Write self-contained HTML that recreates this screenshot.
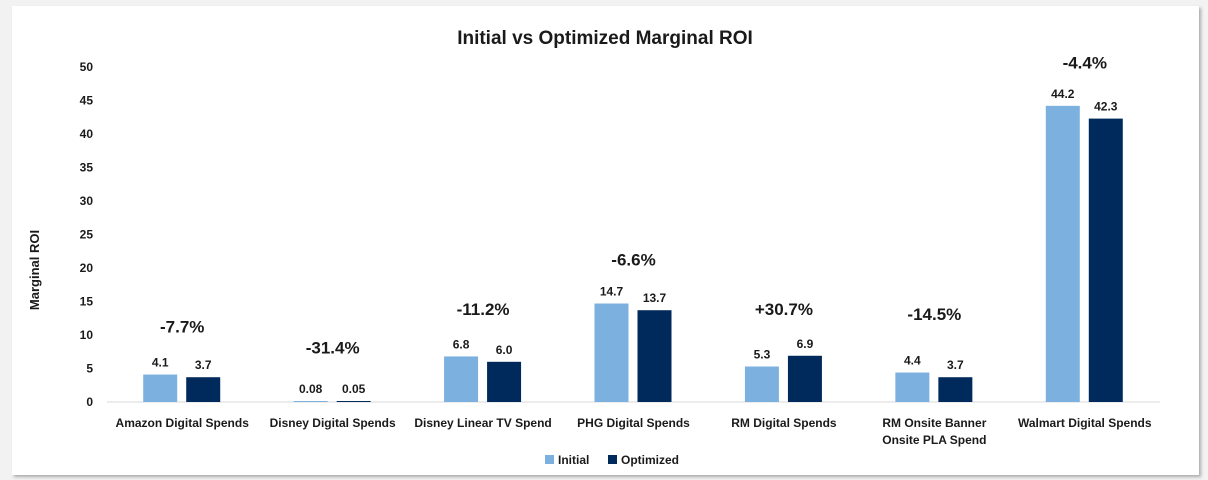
<!DOCTYPE html>
<html><head><meta charset="utf-8">
<style>
body{margin:0;background:#f2f2f2;width:1208px;height:480px;overflow:hidden;font-family:"Liberation Sans",sans-serif;}
#card{position:absolute;left:12px;top:6px;width:1187px;height:469px;background:#fff;box-shadow:2px 2px 3px #aaa;}
svg{position:absolute;left:0;top:0;}
text{font-family:"Liberation Sans",sans-serif;font-weight:bold;fill:#1a1a1a;}
</style></head>
<body>
<div id="card"></div>
<svg id="chart" width="1208" height="480">
<text x="605" y="44" font-size="19" text-anchor="middle">Initial vs Optimized Marginal ROI</text>
<text transform="translate(39,270) rotate(-90)" font-size="13" text-anchor="middle">Marginal ROI</text>
<g id="g"></g>
<rect x="545" y="455" width="9" height="9" fill="#7cb0df"/>
<text x="558" y="464" font-size="12">Initial</text>
<rect x="608" y="455" width="9" height="9" fill="#002a5c"/>
<text x="621" y="464" font-size="12">Optimized</text>
</svg>
<script>
const categories=[["Amazon Digital Spends"],["Disney Digital Spends"],["Disney Linear TV Spend"],["PHG Digital Spends"],["RM Digital Spends"],["RM Onsite Banner","Onsite PLA Spend"],["Walmart Digital Spends"]];
const initialVals=[4.1,0.08,6.8,14.7,5.3,4.4,44.2];
const optimizedVals=[3.7,0.05,6.0,13.7,6.9,3.7,42.3];
const initialLabels=["4.1","0.08","6.8","14.7","5.3","4.4","44.2"];
const optimizedLabels=["3.7","0.05","6.0","13.7","6.9","3.7","42.3"];
const pctLabels=["-7.7%","-31.4%","-11.2%","-6.6%","+30.7%","-14.5%","-4.4%"];
const pctHeights=[11.3,8.1,13.9,21.3,13.9,13.1,50.7];
const yTicks=[0,5,10,15,20,25,30,35,40,45,50];
const X0=107,X1=1160,Y0=402,Y50=67;
const band=(X1-X0)/categories.length;
const y=v=>Y0-(Y0-Y50)*v/50;
const cx=i=>X0+band*(i+0.5);
const g=document.getElementById('g');
const NS='http://www.w3.org/2000/svg';
function mk(t,a,txt){const e=document.createElementNS(NS,t);for(const k in a)e.setAttribute(k,a[k]);if(txt!==undefined)e.textContent=txt;g.appendChild(e);return e;}
yTicks.forEach(t=>{const e=mk('text',{x:93,y:y(t)+4,'font-size':12,'text-anchor':'end'},String(t));

});
const ax=mk('line',{x1:X0,x2:X1,y1:Y0,y2:Y0,stroke:'#d9d9d9','stroke-width':1});


categories.forEach((c,i)=>{
 const xc=cx(i);
 const h1=Math.max(Y0-y(initialVals[i]),1), h2=Math.max(Y0-y(optimizedVals[i]),1);
 const b1=mk('rect',{x:xc-39,y:Y0-h1,width:34,height:h1,fill:'#7cb0df'});
 
 
 const b2=mk('rect',{x:xc+4,y:Y0-h2,width:34,height:h2,fill:'#002a5c'});
 
 
 const l1=mk('text',{x:xc-22,y:Y0-h1-8,'font-size':12,'text-anchor':'middle'},initialLabels[i]);
 
 
 const l2=mk('text',{x:xc+21,y:Y0-h2-8,'font-size':12,'text-anchor':'middle'},optimizedLabels[i]);
 
 
 const p=mk('text',{x:xc,y:y(pctHeights[i])+6,'font-size':17,'text-anchor':'middle'},pctLabels[i]);
 
 
 c.forEach((line,j)=>{const t=mk('text',{x:xc,y:427+j*17,'font-size':12,'text-anchor':'middle'},line);
 
 });
});
</script>
</body></html>
